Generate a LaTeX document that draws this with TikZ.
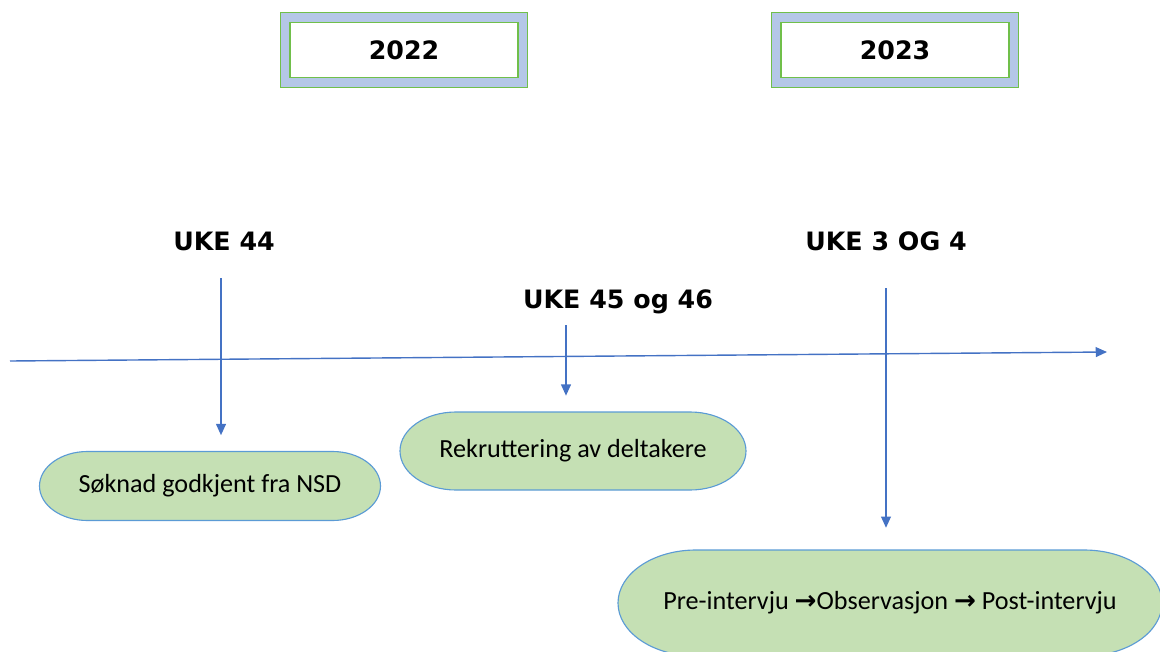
\documentclass[tikz,border=0pt]{standalone}
\usepackage{fontspec}
\setmainfont{Carlito}
\newfontfamily\headfont{DejaVu Sans}
\usetikzlibrary{arrows.meta}
\definecolor{pilblue}{HTML}{4472C4}
\definecolor{kantblue}{HTML}{5B9BD5}
\definecolor{aktgreen}{HTML}{C5E0B4}
\definecolor{boxgreen}{HTML}{70BF4A}
\definecolor{boxblue}{HTML}{B4C7E7}

% pill: name, x, y, half width, half height, end radius, text
\newcommand{\pille}[7]{%
  \draw[aktivitet] (#2-#4+#6,#3-#5) -- (#2+#4-#6,#3-#5)
    arc[start angle=-90, end angle=90, x radius=#6, y radius=#5]
    -- (#2-#4+#6,#3+#5)
    arc[start angle=90, end angle=270, x radius=#6, y radius=#5] -- cycle;
  \node[akttekst, minimum height={2*#5*0.025cm}] (#1) at (#2,#3) {#7};
}

\begin{document}
\begin{tikzpicture}[x=0.025cm, y=-0.025cm,
    year/.style={draw=boxgreen, line width=0.8pt, double=boxblue, double distance=6pt, fill=white,
      minimum width=5.94cm, minimum height=1.625cm, font=\headfont\bfseries\fontsize{18}{22}\selectfont},
    uke/.style={inner sep=0pt, font=\headfont\bfseries\fontsize{18}{22}\selectfont},
    aktivitet/.style={draw=kantblue, fill=aktgreen, line width=0.8pt},
    akttekst/.style={inner sep=0pt, font=\fontsize{18.6}{22}\selectfont},
    pil/.style={draw=pilblue, line width=1pt, -{Triangle[length=8pt,width=7pt]}}]
  \clip (0,0) rectangle (1160,652);

  % years
  \node[year] (y22) at (404,50) {2022};
  \node[year] (y23) at (895,50) {2023};

  % weeks
  \node[uke] (u44) at (224,241) {UKE 44};
  \node[uke] (u45) at (618,302) {UKE 45 og 46};
  \node[uke] (u34) at (886,241) {UKE 3 OG 4};

  % activities
  \pille{soknad}{210}{486}{170.5}{34.5}{48}{Søknad godkjent fra NSD}
  \pille{rekrutt}{573}{451}{173}{39}{56}{Rekruttering av deltakere}
  \pille{prepost}{890}{603}{272}{53}{78}{Pre-intervju {\headfont\bfseries →}Observasjon {\headfont\bfseries →} Post-intervju}

  % timeline
  \coordinate (t0) at (10,361);
  \coordinate (t1) at (1107,352);
  \draw[pil] (t0) -- (t1);

  \foreach \k/\x/\y/\t/\s in {1/221/278/soknad/11.4pt, 2/566/325/rekrutt/11.4pt, 3/886/288/prepost/15.6pt} {
    \coordinate (p\k) at (\x,\y);
    \draw[pil, shorten >=\s] (p\k) -- (p\k |- \t.north);
  }
\end{tikzpicture}
\end{document}
